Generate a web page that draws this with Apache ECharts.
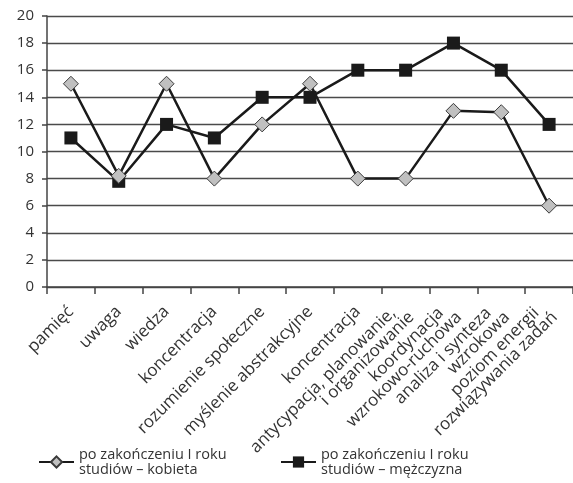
<!DOCTYPE html>
<html>
<head>
<meta charset="utf-8">
<script src="https://cdn.jsdelivr.net/npm/echarts@6/dist/echarts.min.js"></script>
<style>
  html, body { margin: 0; padding: 0; background: #fff; }
  #chart { width: 573px; height: 483px; }
</style>
</head>
<body>
<div id="chart"></div>
<script>
// Skills assessed after the first year of studies
const categories = [
  'pamięć',
  'uwaga',
  'wiedza',
  'koncentracja',
  'rozumienie społeczne',
  'myślenie abstrakcyjne',
  'koncentracja',
  'antycypacja, planowanie,\ni organizowanie',
  'koordynacja\nwzrokowo-ruchowa',
  'analiza i synteza\nwzrokowa',
  'poziom energii\nrozwiązywania zadań'
];
const seriesNames = [
  'po zakończeniu I roku\nstudiów – kobieta',
  'po zakończeniu I roku\nstudiów – mężczyzna'
];
const womenValues = [15, 8.2, 15, 8, 12, 15, 8, 8, 13, 12.9, 6];
const menValues = [11, 7.8, 12, 11, 14, 14, 16, 16, 18, 16, 12];
const yTicks = [0, 2, 4, 6, 8, 10, 12, 14, 16, 18, 20];

const fontFamily = '"Open Sans", "Noto Sans", sans-serif';
const textColor = '#333';
const lineColor = '#1a1a1a';
const axisColor = '#444';

const labelFont = { fontSize: 17, fontFamily: fontFamily, color: textColor, lineHeight: 16 };

// Two-line category labels: the first line stops a little short so the
// second line sits slightly further along the slanted baseline.
function categoryLabel(value) {
  const parts = value.split('\n');
  if (parts.length === 1) return '{b|' + value + '}';
  return '{a|' + parts[0] + '}\n{b|' + parts[1] + '}';
}

const chart = echarts.init(document.getElementById('chart'), null, { renderer: 'canvas' });

function legendFor(name, left) {
  return {
    left: left, top: 447, padding: 0,
    itemWidth: 35, itemHeight: 14, itemGap: 4,
    data: [name],
    textStyle: { fontSize: 14.5, color: textColor, fontFamily: fontFamily, lineHeight: 15 }
  };
}

chart.setOption({
  animation: false,
  textStyle: { fontFamily: fontFamily },
  grid: { left: 47, right: 0, top: 16, bottom: 196, containLabel: false },
  legend: [legendFor(seriesNames[0], 38), legendFor(seriesNames[1], 280)],
  xAxis: {
    type: 'category',
    data: categories,
    boundaryGap: true,
    axisLine: { lineStyle: { color: axisColor, width: 1.5 } },
    axisTick: { show: true, length: 7, lineStyle: { color: axisColor, width: 1.5 } },
    axisLabel: {
      interval: 0, rotate: 45, margin: 22,
      fontSize: 17, color: textColor, fontFamily: fontFamily, lineHeight: 16,
      formatter: categoryLabel,
      rich: {
        a: Object.assign({ padding: [0, 10, 0, 0] }, labelFont),
        b: Object.assign({}, labelFont)
      }
    }
  },
  yAxis: {
    type: 'value',
    min: yTicks[0], max: yTicks[yTicks.length - 1], interval: 2,
    axisLine: { show: true, lineStyle: { color: axisColor, width: 1.5 } },
    axisTick: { show: true, length: 5, lineStyle: { color: axisColor, width: 1.5 } },
    splitLine: { lineStyle: { color: '#4a4a4a', width: 1.3 } },
    axisLabel: { fontSize: 15, color: textColor, fontFamily: fontFamily, margin: 13 }
  },
  series: [
    {
      name: seriesNames[0],
      type: 'line',
      data: womenValues,
      symbol: 'diamond',
      symbolSize: 15,
      lineStyle: { color: lineColor, width: 2.5 },
      itemStyle: { color: '#c0c0c0', borderColor: '#3a3a3a', borderWidth: 1 },
      z: 3
    },
    {
      name: seriesNames[1],
      type: 'line',
      data: menValues,
      symbol: 'rect',
      symbolSize: 13,
      lineStyle: { color: lineColor, width: 2.5 },
      itemStyle: { color: '#1a1a1a', borderColor: '#1a1a1a', borderWidth: 0 },
      z: 2
    }
  ]
});
</script>
</body>
</html>
